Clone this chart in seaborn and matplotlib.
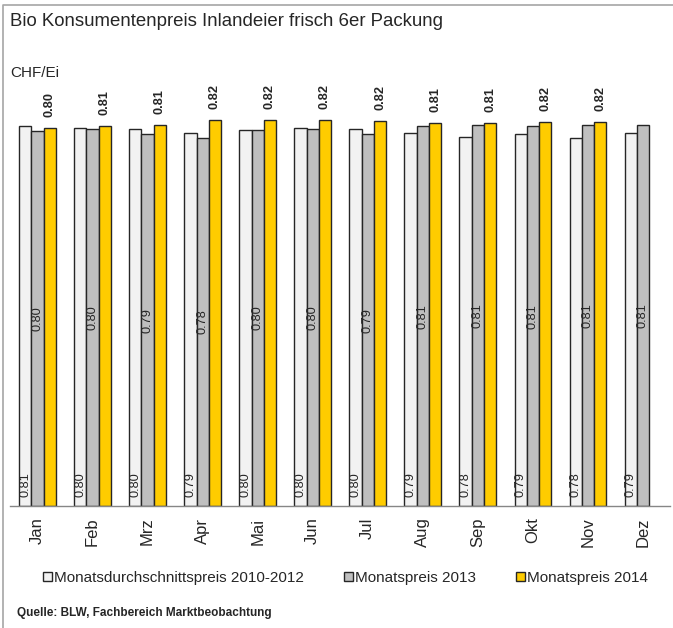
import pandas as pd
import seaborn as sns
import matplotlib.pyplot as plt
from matplotlib.lines import Line2D
from matplotlib.patches import Patch

months = ['Jan', 'Feb', 'Mrz', 'Apr', 'Mai', 'Jun', 'Jul', 'Aug', 'Sep', 'Okt', 'Nov', 'Dez']
series = ['Monatsdurchschnittspreis 2010-2012', 'Monatspreis 2013', 'Monatspreis 2014']
avg_2010_2012 = [0.808, 0.803, 0.801, 0.793, 0.800, 0.803, 0.801, 0.794, 0.784, 0.791, 0.783, 0.794]
price_2013 = [0.798, 0.802, 0.791, 0.783, 0.800, 0.802, 0.791, 0.808, 0.810, 0.807, 0.810, 0.810]
price_2014 = [0.803, 0.808, 0.810, 0.820, 0.820, 0.821, 0.819, 0.814, 0.814, 0.817, 0.817]
colors = ['#F2F2F2', '#BFBFBF', '#FFCC00']

rows = []
for name, vals in zip(series, [avg_2010_2012, price_2013, price_2014]):
    for m, v in zip(months, vals):
        rows.append({'Monat': m, 'Serie': name, 'Preis': v})
df = pd.DataFrame(rows)

sns.set_style('white')
plt.rcParams['font.family'] = ['Liberation Sans', 'DejaVu Sans']

fig = plt.figure(figsize=(6.73, 6.28), dpi=100)
ax = fig.add_axes([10 / 673, 0.1935, 660.5 / 673, 0.675])

sns.barplot(data=df, x='Monat', y='Preis', hue='Serie', order=months, hue_order=series,
            palette=colors, saturation=1, width=0.667, errorbar=None, edgecolor='#262626',
            linewidth=1.0, legend=False, ax=ax)

ax.set_ylim(0, 0.9)
ax.set_xlim(-0.5, 11.5)
ax.set_xlabel('')
ax.set_ylabel('')
ax.set_yticks([])
for s in ['top', 'right', 'left']:
    ax.spines[s].set_visible(False)
ax.spines['bottom'].set_color('#868686')
ax.spines['bottom'].set_linewidth(1.0)

ax.set_xticks(range(12))
ax.set_xticklabels(months, rotation=90, fontsize=12)
ax.tick_params(axis='x', which='major', length=0, pad=8)
ax.set_xticks([i - 0.5 for i in range(13)], minor=True)
ax.tick_params(axis='x', which='minor', length=5, color='#868686', width=1.0)

c_avg, c_13, c_14 = ax.containers
for bar, v in zip(c_avg, avg_2010_2012):
    ax.annotate(f'{v:.2f}', (bar.get_x() + bar.get_width() / 2, 0), xytext=(0, 7),
                textcoords='offset points', rotation=90, ha='center', va='bottom', fontsize=9.2)
ax.bar_label(c_13, labels=[f'{v:.2f}' for v in price_2013], label_type='center',
             rotation=90, fontsize=9.2)
ax.bar_label(c_14, labels=[f'{v:.2f}' for v in price_2014], label_type='edge', padding=8,
             rotation=90, fontsize=9.2, fontweight='bold')

fig.text(10 / 673, 1 - 22 / 628, 'Bio Konsumentenpreis Inlandeier frisch 6er Packung',
         fontsize=13.4, va='center', ha='left')
fig.text(10 / 673, 1 - 73 / 628, 'CHF/Ei', fontsize=11, va='center', ha='left')
fig.text(17 / 673, 1 - 613 / 628, 'Quelle: BLW, Fachbereich Marktbeobachtung',
         fontsize=8.5, fontweight='bold', va='center', ha='left')

handles = [Patch(facecolor=c, edgecolor='#262626', linewidth=1.0) for c in colors]
fig.legend(handles, series, loc='center', bbox_to_anchor=(0.5 + 9 / 673, 1 - 578 / 628), ncol=3,
           frameon=False, fontsize=11, handlelength=0.6, handleheight=0.6,
           handletextpad=0.15, columnspacing=2.6)

fig.add_artist(Line2D([3 / 673, 3 / 673, 1.0], [0.0, 1 - 5 / 628, 1 - 5 / 628],
                      transform=fig.transFigure, color='#A6A6A6', linewidth=1.2))

fig.savefig('out.png', dpi=100)
